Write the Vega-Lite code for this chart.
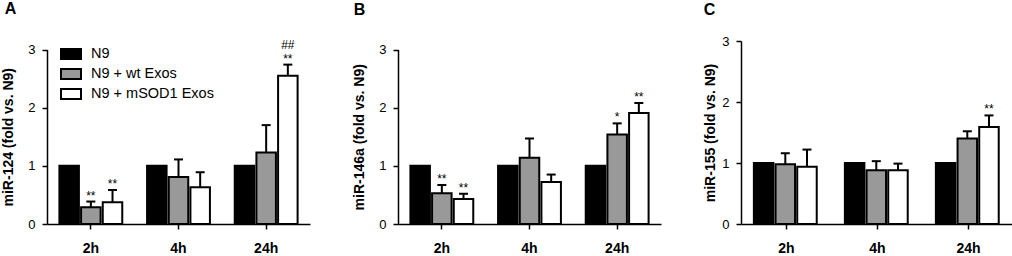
{
  "$schema": "https://vega.github.io/schema/vega-lite/v6.json",
  "padding": {"left": 1, "top": 0, "right": 0, "bottom": 0},
  "background": "white",
  "config": {
    "font": "Liberation Sans",
    "view": {"stroke": null},
    "axisY": {"domainColor": "black", "domainWidth": 1.5, "tickColor": "black", "tickWidth": 1.5, "tickSize": 5, "labelFontSize": 13, "labelPadding": 7, "labelColor": "black", "titleFontSize": 14, "titleFontWeight": "bold", "titleColor": "black", "titlePadding": 12, "grid": false},
    "axisX": {"domainColor": "black", "domainWidth": 1.5, "tickColor": "black", "tickWidth": 1.5, "tickSize": 5, "labelFontSize": 14, "labelFontWeight": "bold", "labelPadding": 12, "labelAngle": 0, "labelColor": "black", "grid": false}
  },
  "datasets": {
    "d": [
      {"panel": "A", "time": "2h", "group": "N9", "value": 1},
      {"panel": "A", "time": "2h", "group": "N9 + wt Exos", "value": 0.29, "err": 0.386, "sig": "**"},
      {"panel": "A", "time": "2h", "group": "N9 + mSOD1 Exos", "value": 0.375, "err": 0.585, "sig": "**"},
      {"panel": "A", "time": "4h", "group": "N9", "value": 1},
      {"panel": "A", "time": "4h", "group": "N9 + wt Exos", "value": 0.81, "err": 1.11},
      {"panel": "A", "time": "4h", "group": "N9 + mSOD1 Exos", "value": 0.63, "err": 0.89},
      {"panel": "A", "time": "24h", "group": "N9", "value": 1},
      {"panel": "A", "time": "24h", "group": "N9 + wt Exos", "value": 1.23, "err": 1.70},
      {"panel": "A", "time": "24h", "group": "N9 + mSOD1 Exos", "value": 2.55, "err": 2.74, "sig": "**", "hash": "##"},
      {"panel": "B", "time": "2h", "group": "N9", "value": 1},
      {"panel": "B", "time": "2h", "group": "N9 + wt Exos", "value": 0.53, "err": 0.67, "sig": "**"},
      {"panel": "B", "time": "2h", "group": "N9 + mSOD1 Exos", "value": 0.43, "err": 0.52, "sig": "**"},
      {"panel": "B", "time": "4h", "group": "N9", "value": 1},
      {"panel": "B", "time": "4h", "group": "N9 + wt Exos", "value": 1.14, "err": 1.47},
      {"panel": "B", "time": "4h", "group": "N9 + mSOD1 Exos", "value": 0.72, "err": 0.85},
      {"panel": "B", "time": "24h", "group": "N9", "value": 1},
      {"panel": "B", "time": "24h", "group": "N9 + wt Exos", "value": 1.54, "err": 1.73, "sig": "*"},
      {"panel": "B", "time": "24h", "group": "N9 + mSOD1 Exos", "value": 1.91, "err": 2.08, "sig": "**"},
      {"panel": "C", "time": "2h", "group": "N9", "value": 1},
      {"panel": "C", "time": "2h", "group": "N9 + wt Exos", "value": 0.98, "err": 1.16},
      {"panel": "C", "time": "2h", "group": "N9 + mSOD1 Exos", "value": 0.94, "err": 1.22},
      {"panel": "C", "time": "4h", "group": "N9", "value": 1},
      {"panel": "C", "time": "4h", "group": "N9 + wt Exos", "value": 0.88, "err": 1.03},
      {"panel": "C", "time": "4h", "group": "N9 + mSOD1 Exos", "value": 0.88, "err": 0.99},
      {"panel": "C", "time": "24h", "group": "N9", "value": 1},
      {"panel": "C", "time": "24h", "group": "N9 + wt Exos", "value": 1.40, "err": 1.52},
      {"panel": "C", "time": "24h", "group": "N9 + mSOD1 Exos", "value": 1.59, "err": 1.78, "sig": "**"}
    ]
  },
  "spacing": 42,
  "align": "none",
  "resolve": {"scale": {"fill": "independent", "y": "independent", "x": "independent"}},
  "hconcat": [
    {
      "title": {"text": "A", "anchor": "start", "frame": "bounds", "fontSize": 16, "fontWeight": "bold", "color": "black", "baseline": "alphabetic", "offset": 9, "dx": 3},
      "width": 263, "height": 183,
      "data": {"name": "d"},
      "transform": [{"filter": "datum.panel == 'A'"}],
      "encoding": {
        "x": {"field": "time", "type": "nominal", "sort": ["2h", "4h", "24h"], "scale": {"paddingInner": 0.283, "paddingOuter": 0.1415}, "axis": {"title": null}},
        "xOffset": {"field": "group", "type": "nominal", "sort": ["N9", "N9 + wt Exos", "N9 + mSOD1 Exos"], "scale": {"paddingInner": 0.1, "paddingOuter": 0}}
      },
      "layer": [
        {"transform": [{"filter": "isValid(datum.err)"}], "mark": {"type": "rule", "strokeWidth": 2, "color": "black"}, "encoding": {"y": {"field": "value", "type": "quantitative"}, "y2": {"field": "err"}}},
        {"transform": [{"filter": "isValid(datum.err)"}], "mark": {"type": "tick", "thickness": 2, "size": 9, "color": "black", "opacity": 1}, "encoding": {"y": {"field": "err", "type": "quantitative"}}},
        {"mark": {"type": "bar", "stroke": "black", "strokeWidth": 2, "opacity": 1}, "encoding": {
          "y": {"field": "value", "type": "quantitative", "scale": {"domain": [0, 3], "nice": false, "range": [183, 8.5]}, "axis": {"title": "miR-124 (fold vs. N9)", "values": [0, 1, 2, 3], "format": "d"}},
          "fill": {"field": "group", "type": "nominal", "sort": ["N9", "N9 + wt Exos", "N9 + mSOD1 Exos"], "scale": {"domain": ["N9", "N9 + wt Exos", "N9 + mSOD1 Exos"], "range": ["black", "#999999", "white"]},
            "legend": {"orient": "none", "legendX": 13, "legendY": 2, "title": null, "symbolType": "M-1,-0.5H1V0.5H-1Z", "symbolSize": 400, "symbolStrokeColor": "black", "symbolStrokeWidth": 2, "symbolOpacity": 1, "labelFontSize": 14.5, "labelColor": "black", "labelOffset": 9, "rowPadding": -2, "padding": 0}}
        }},
        {"transform": [{"filter": "isValid(datum.sig)"}], "mark": {"type": "text", "fontSize": 12, "baseline": "alphabetic", "dy": -2, "color": "black"}, "encoding": {"y": {"field": "err", "type": "quantitative"}, "text": {"field": "sig"}}},
        {"transform": [{"filter": "isValid(datum.hash)"}], "mark": {"type": "text", "fontSize": 12, "baseline": "alphabetic", "dy": -16, "color": "black"}, "encoding": {"y": {"field": "err", "type": "quantitative"}, "text": {"field": "hash"}}}
      ]
    },
    {
      "title": {"text": "B", "anchor": "start", "frame": "bounds", "fontSize": 16, "fontWeight": "bold", "color": "black", "baseline": "alphabetic", "offset": 10, "dx": 1},
      "width": 263, "height": 183,
      "data": {"name": "d"},
      "transform": [{"filter": "datum.panel == 'B'"}],
      "encoding": {
        "x": {"field": "time", "type": "nominal", "sort": ["2h", "4h", "24h"], "scale": {"paddingInner": 0.283, "paddingOuter": 0.1415}, "axis": {"title": null}},
        "xOffset": {"field": "group", "type": "nominal", "sort": ["N9", "N9 + wt Exos", "N9 + mSOD1 Exos"], "scale": {"paddingInner": 0.1, "paddingOuter": 0}}
      },
      "layer": [
        {"transform": [{"filter": "isValid(datum.err)"}], "mark": {"type": "rule", "strokeWidth": 2, "color": "black"}, "encoding": {"y": {"field": "value", "type": "quantitative"}, "y2": {"field": "err"}}},
        {"transform": [{"filter": "isValid(datum.err)"}], "mark": {"type": "tick", "thickness": 2, "size": 9, "color": "black", "opacity": 1}, "encoding": {"y": {"field": "err", "type": "quantitative"}}},
        {"mark": {"type": "bar", "stroke": "black", "strokeWidth": 2, "opacity": 1}, "encoding": {
          "y": {"field": "value", "type": "quantitative", "scale": {"domain": [0, 3], "nice": false, "range": [183, 8.5]}, "axis": {"title": "miR-146a (fold vs. N9)", "values": [0, 1, 2, 3], "format": "d"}},
          "fill": {"field": "group", "type": "nominal", "scale": {"domain": ["N9", "N9 + wt Exos", "N9 + mSOD1 Exos"], "range": ["black", "#999999", "white"]}, "legend": null}
        }},
        {"transform": [{"filter": "isValid(datum.sig)"}], "mark": {"type": "text", "fontSize": 12, "baseline": "alphabetic", "dy": -2, "color": "black"}, "encoding": {"y": {"field": "err", "type": "quantitative"}, "text": {"field": "sig"}}}
      ]
    },
    {
      "title": {"text": "C", "anchor": "start", "frame": "bounds", "fontSize": 16, "fontWeight": "bold", "color": "black", "baseline": "alphabetic", "offset": 4, "dx": 0},
      "width": 273, "height": 183,
      "data": {"name": "d"},
      "transform": [{"filter": "datum.panel == 'C'"}],
      "encoding": {
        "x": {"field": "time", "type": "nominal", "sort": ["2h", "4h", "24h"], "scale": {"paddingInner": 0.283, "paddingOuter": 0.1415}, "axis": {"title": null}},
        "xOffset": {"field": "group", "type": "nominal", "sort": ["N9", "N9 + wt Exos", "N9 + mSOD1 Exos"], "scale": {"paddingInner": 0.1, "paddingOuter": 0}}
      },
      "layer": [
        {"transform": [{"filter": "isValid(datum.err)"}], "mark": {"type": "rule", "strokeWidth": 2, "color": "black"}, "encoding": {"y": {"field": "value", "type": "quantitative"}, "y2": {"field": "err"}}},
        {"transform": [{"filter": "isValid(datum.err)"}], "mark": {"type": "tick", "thickness": 2, "size": 9, "color": "black", "opacity": 1}, "encoding": {"y": {"field": "err", "type": "quantitative"}}},
        {"mark": {"type": "bar", "stroke": "black", "strokeWidth": 2, "opacity": 1}, "encoding": {
          "y": {"field": "value", "type": "quantitative", "scale": {"domain": [0, 3], "nice": false}, "axis": {"title": "miR-155 (fold vs. N9)", "values": [0, 1, 2, 3], "format": "d", "titlePadding": 4}},
          "fill": {"field": "group", "type": "nominal", "scale": {"domain": ["N9", "N9 + wt Exos", "N9 + mSOD1 Exos"], "range": ["black", "#999999", "white"]}, "legend": null}
        }},
        {"transform": [{"filter": "isValid(datum.sig)"}], "mark": {"type": "text", "fontSize": 12, "baseline": "alphabetic", "dy": -2, "color": "black"}, "encoding": {"y": {"field": "err", "type": "quantitative"}, "text": {"field": "sig"}}}
      ]
    }
  ]
}
